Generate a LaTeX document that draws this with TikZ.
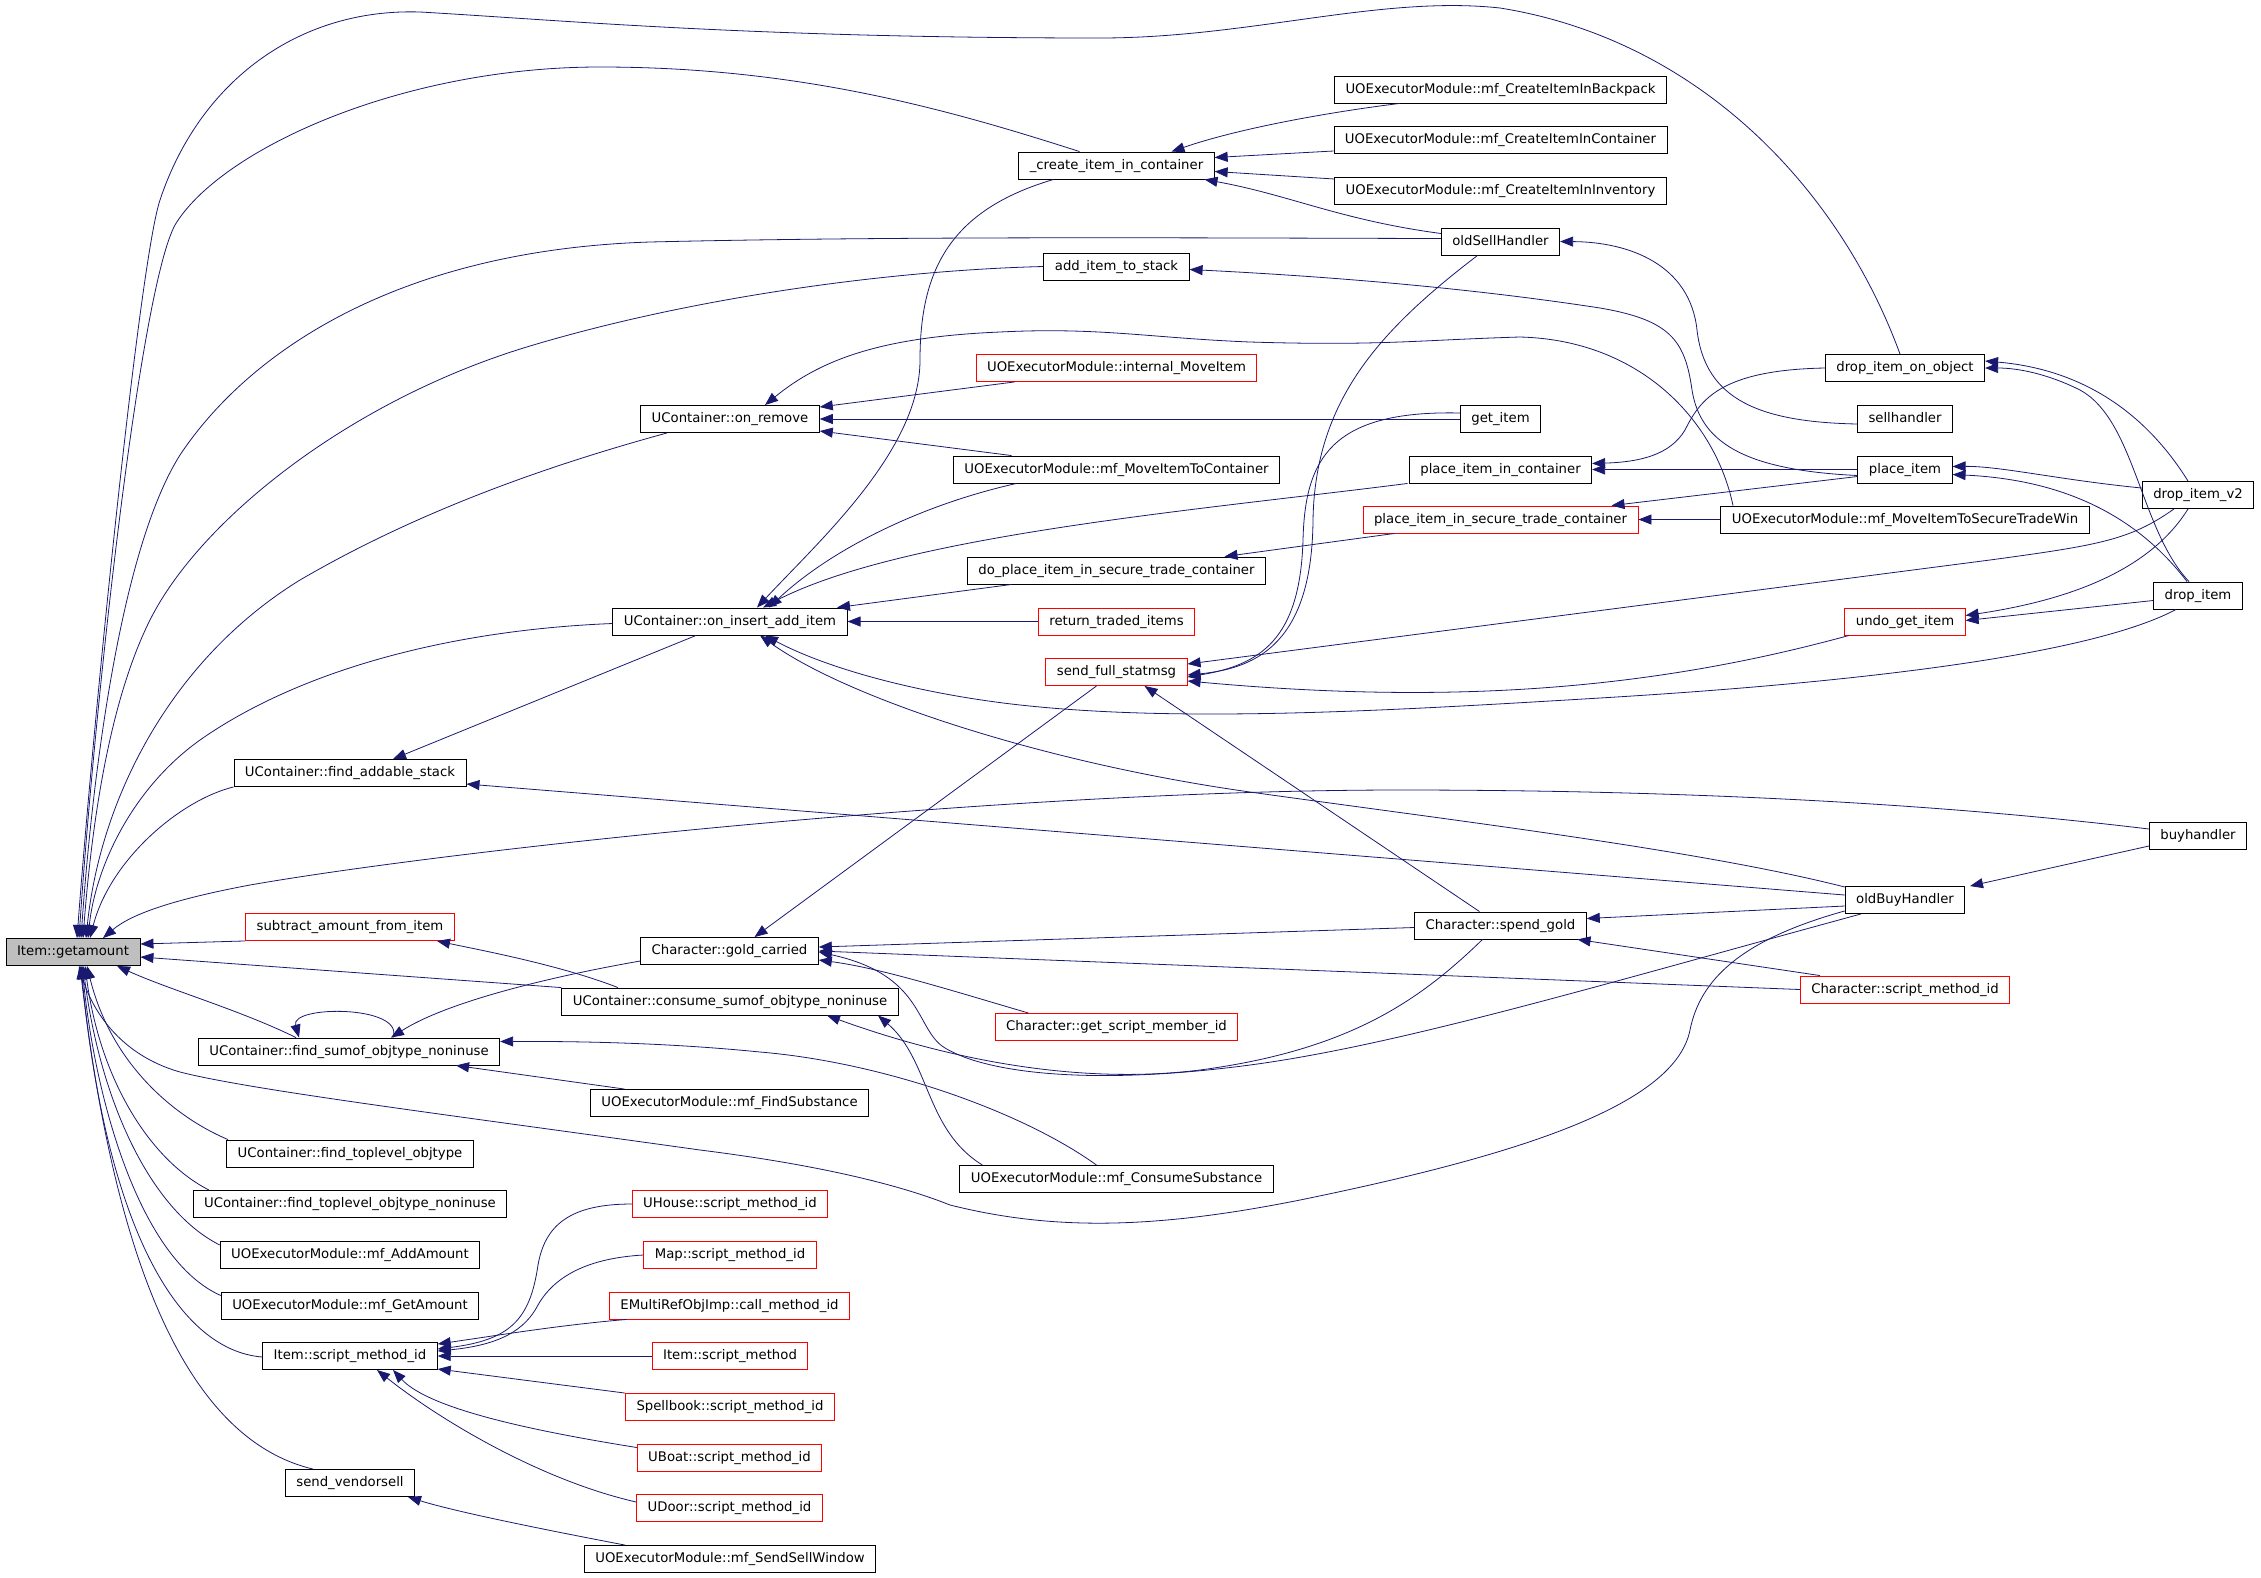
\documentclass[tikz,border=0pt]{standalone}
\usepackage{fontspec}
\setmainfont{DejaVu Sans}
\usepackage{xcolor}
\usepackage{tikz}
\usetikzlibrary{arrows.meta}
\definecolor{edgeblue}{HTML}{191970}
\definecolor{nodegray}{HTML}{BFBFBF}

\begin{document}
\begin{tikzpicture}[x=1pt, y=-1pt,
                    fn/.style = {draw,
                                 rectangle,
                                 line width = 0.9pt,
                                 inner xsep = 11pt,
                                 inner ysep = 0pt,
                                 minimum height = 27pt,
                                 text height = 9.7pt,
                                 text depth = 2.6pt,
                                 font = \fontsize{13.25}{15}\selectfont},
                    ext/.style = {fn, draw=red},
                    call/.style = {draw=edgeblue,
                                   line width = 0.8pt,
                                   -{Triangle[length=13pt, width=10pt]}}]

\useasboundingbox (0,0) rectangle (2261,1577);

\node (G) at (73,952) [fn, fill=nodegray] {Item::getamount};

\node (FAS) at (350,773) [fn] {UContainer::find\_addable\_stack};
\node (SA) at (350,927) [ext] {subtract\_amount\_from\_item};
\node (FSO) at (349,1051.5) [fn] {UContainer::find\_sumof\_objtype\_noninuse};
\node (FTO) at (350,1153.5) [fn] {UContainer::find\_toplevel\_objtype};
\node (FTN) at (350,1204) [fn] {UContainer::find\_toplevel\_objtype\_noninuse};
\node (AA) at (350,1255) [fn] {UOExecutorModule::mf\_AddAmount};
\node (GA) at (350,1305.5) [fn] {UOExecutorModule::mf\_GetAmount};
\node (ISM) at (350,1356) [fn] {Item::script\_method\_id};
\node (SV) at (350,1483) [fn] {send\_vendorsell};

\node (OR) at (730,419) [fn] {UContainer::on\_remove};
\node (OIA) at (730,621.5) [fn] {UContainer::on\_insert\_add\_item};
\node (GC) at (729.5,951) [fn] {Character::gold\_carried};
\node (CS) at (730,1001.5) [fn] {UContainer::consume\_sumof\_objtype\_noninuse};
\node (FS) at (729.5,1103) [fn] {UOExecutorModule::mf\_FindSubstance};
\node (UH) at (730,1204) [ext] {UHouse::script\_method\_id};
\node (MAP) at (730,1255) [ext] {Map::script\_method\_id};
\node (EM) at (729.5,1305.5) [ext] {EMultiRefObjImp::call\_method\_id};
\node (ISMM) at (730,1356) [ext] {Item::script\_method};
\node (SB) at (730,1407) [ext] {Spellbook::script\_method\_id};
\node (UB) at (729.5,1457.5) [ext] {UBoat::script\_method\_id};
\node (UD) at (729.5,1508) [ext] {UDoor::script\_method\_id};
\node (SSW) at (730,1559) [fn] {UOExecutorModule::mf\_SendSellWindow};

\node (CI) at (1116.5,165.5) [fn] {\_create\_item\_in\_container};
\node (AIS) at (1116.5,266.5) [fn] {add\_item\_to\_stack};
\node (IMI) at (1116.5,368) [ext] {UOExecutorModule::internal\_MoveItem};
\node (MTC) at (1116.5,469.5) [fn] {UOExecutorModule::mf\_MoveItemToContainer};
\node (DPS) at (1116.5,570.5) [fn] {do\_place\_item\_in\_secure\_trade\_container};
\node (RTI) at (1116.5,621.5) [ext] {return\_traded\_items};
\node (SFS) at (1116.5,672) [ext] {send\_full\_statmsg};
\node (GSM) at (1116.5,1027) [ext] {Character::get\_script\_member\_id};
\node (MCS) at (1116.5,1179) [fn] {UOExecutorModule::mf\_ConsumeSubstance};

\node (CB) at (1500.5,89.5) [fn] {UOExecutorModule::mf\_CreateItemInBackpack};
\node (CC) at (1500.5,140) [fn] {UOExecutorModule::mf\_CreateItemInContainer};
\node (CIV) at (1500.5,191) [fn] {UOExecutorModule::mf\_CreateItemInInventory};
\node (OSH) at (1500.5,241.5) [fn] {oldSellHandler};
\node (GI) at (1500.5,419) [fn] {get\_item};
\node (PIC) at (1500.5,469.5) [fn] {place\_item\_in\_container};
\node (PST) at (1500.5,519.5) [ext] {place\_item\_in\_secure\_trade\_container};
\node (SG) at (1500.5,925.5) [fn] {Character::spend\_gold};

\node (DIO) at (1905,368) [fn] {drop\_item\_on\_object};
\node (SH) at (1905,419) [fn] {sellhandler};
\node (PI) at (1905,469.5) [fn] {place\_item};
\node (MST) at (1905,519.5) [fn] {UOExecutorModule::mf\_MoveItemToSecureTradeWin};
\node (UGI) at (1905,621.5) [ext] {undo\_get\_item};
\node (OBH) at (1905,900) [fn] {oldBuyHandler};
\node (SMI) at (1905,989.5) [ext] {Character::script\_method\_id};

\node (DV2) at (2198,495) [fn] {drop\_item\_v2};
\node (DI) at (2198,595.5) [fn] {drop\_item};
\node (BH) at (2198,836) [fn] {buyhandler};

\draw[call] ([xshift=-5pt]DIO.north) .. controls (1840,190) and (1700,40) .. (1500,8)
  .. controls (1380,-5) and (1250,38) .. (1100,38)
  .. controls (750,38) and (560,20) .. (420,12)
  .. controls (300,8) and (200,80) .. (160,200)
  .. controls (140,260) and (95,700) .. ([xshift=4pt]G.north);
\draw[call] ([xshift=-37pt]CI.north) .. controls (950,110) and (800,67) .. (600,67)
  .. controls (400,67) and (220,150) .. (175,225)
  .. controls (140,290) and (95,700) .. ([xshift=6pt]G.north);
\draw[call] ([yshift=3pt]OSH.west) .. controls (1200,238) and (900,236) .. (650,242)
  .. controls (400,250) and (250,350) .. (180,455)
  .. controls (120,550) and (92,780) .. ([xshift=8pt]G.north);
\draw[call] (AIS.west) .. controls (900,270) and (700,295) .. (530,346)
  .. controls (350,400) and (200,520) .. (150,620)
  .. controls (110,700) and (92,820) .. ([xshift=10pt]G.north);
\draw[call] ([xshift=-63pt]OR.south) .. controls (550,465) and (420,510) .. (300,580)
  .. controls (170,660) and (100,800) .. ([xshift=13pt]G.north);
\draw[call] ([yshift=-2pt]OIA.west) .. controls (450,630) and (300,670) .. (200,740)
  .. controls (130,790) and (95,870) .. ([xshift=15pt]G.north);
\draw[call] (FAS.south west) .. controls (180,800) and (110,860) .. ([xshift=17pt]G.north);
\draw[call] ([yshift=7pt]BH.west) .. controls (1950,805) and (1700,790) .. (1400,790)
  .. controls (1000,790) and (450,850) .. (250,885)
  .. controls (170,900) and (130,915) .. ([xshift=30pt]G.north);
\draw[call] (SA.south west) -- ([yshift=8pt]G.east);
\draw[call] (CS.north west) -- ([yshift=-5pt]G.east);
\draw[call] ([xshift=-53pt]FSO.north) .. controls (240,1010) and (170,990) .. ([xshift=44pt]G.south);
\draw[call] ([yshift=3pt]OBH.south west) .. controls (1740,940) and (1700,980) .. (1690,1030)
  .. controls (1675,1105) and (1520,1155) .. (1300,1200)
  .. controls (1150,1230) and (1050,1230) .. (950,1205)
  .. controls (900,1185) and (820,1165) .. (700,1150)
  .. controls (450,1115) and (250,1090) .. (180,1072)
  .. controls (120,1055) and (92,1010) .. ([xshift=6pt]G.south);
\draw[call] ([xshift=-122pt]FTO.north) .. controls (170,1115) and (110,1060) .. ([xshift=14pt]G.south);
\draw[call] ([xshift=-141pt]FTN.north) .. controls (150,1160) and (100,1080) .. ([xshift=12pt]G.south);
\draw[call] ([yshift=10pt]AA.west) .. controls (150,1210) and (100,1100) .. ([xshift=10pt]G.south);
\draw[call] ([yshift=10pt]GA.west) .. controls (140,1260) and (95,1100) .. ([xshift=9pt]G.south);
\draw[call] ([yshift=-1pt]ISM.west) .. controls (175,1350) and (105,1220) .. ([xshift=8pt]G.south);
\draw[call] ([xshift=-37pt]SV.north) .. controls (190,1440) and (115,1270) .. ([xshift=7pt]G.south);

\draw[call] ([xshift=-101pt]CB.south) .. controls (1330,112) and (1240,128) .. ([xshift=55pt]CI.north);
\draw[call] ([yshift=-11pt]CC.west) -- ([yshift=8pt]CI.east);
\draw[call] ([yshift=12pt]CIV.west) -- ([yshift=-6pt]CI.east);
\draw[call] ([yshift=8pt]OSH.west) .. controls (1340,220) and (1290,195) .. ([xshift=88pt]CI.south);

\draw[call] ([xshift=-63pt]CI.south) .. controls (950,210) and (920,270) .. (920,360)
  .. controls (920,450) and (820,540) .. ([xshift=27pt]OIA.north);
\draw[call] ([xshift=-100pt]MTC.south) .. controls (920,505) and (830,550) .. ([xshift=39pt]OIA.north);
\draw[call] ([xshift=-93pt]PIC.south) .. controls (1200,510) and (900,535) .. ([xshift=33pt]OIA.north);
\draw[call] ([xshift=-105pt]DPS.south) -- ([xshift=107pt]OIA.north);
\draw[call] (RTI.west) -- (OIA.east);
\draw[call] ([xshift=-22pt]DI.south) .. controls (2100,650) and (1900,680) .. (1600,698)
  .. controls (1400,710) and (1200,722) .. (1040,707)
  .. controls (930,697) and (830,670) .. ([xshift=35pt]OIA.south);
\draw[call] ([yshift=13pt]OBH.west) .. controls (1700,850) and (1450,820) .. (1250,792)
  .. controls (1050,764) and (850,700) .. ([xshift=30pt]OIA.south);

\draw[call] ([xshift=-34pt]OIA.south) -- ([xshift=43pt]FAS.north);
\draw[call] ([yshift=5pt]OBH.west) -- ([yshift=-11pt]FAS.east);

\draw[call] ([xshift=-102pt]IMI.south) -- ([yshift=12pt]OR.east);
\draw[call] (GI.west) -- (OR.east);
\draw[call] ([xshift=-105pt]MTC.north) -- ([yshift=-12pt]OR.east);
\draw[call] ([xshift=-172pt]MST.north) .. controls (1715,420) and (1640,340) .. (1520,337)
  .. controls (1420,340) and (1380,346) .. (1250,342)
  .. controls (1150,338) and (1100,327) .. (1000,332)
  .. controls (880,337) and (820,360) .. ([xshift=35pt]OR.north);

\draw[call] ([yshift=6pt]GI.west) .. controls (1330,410) and (1305,460) .. (1303,540)
  .. controls (1300,640) and (1260,665) .. ([yshift=-5pt]SFS.east);
\draw[call] ([xshift=-23pt]OSH.south) .. controls (1380,330) and (1315,400) .. (1313,520)
  .. controls (1312,640) and (1260,668) .. ([yshift=-3pt]SFS.east);
\draw[call] ([xshift=-24pt]DV2.south) .. controls (2130,540) and (2100,545) .. (1990,560)
  -- ([yshift=8pt]SFS.east);
\draw[call] ([xshift=-56pt]UGI.south) .. controls (1650,690) and (1450,705) .. ([yshift=-9pt]SFS.east);
\draw[call] ([xshift=-21pt]SG.north) -- ([xshift=28pt]SFS.south);

\draw[call] ([xshift=-20pt]SFS.south) -- ([xshift=25pt]GC.north);
\draw[call] ([yshift=-2pt]SG.west) -- ([yshift=4pt]GC.east);
\draw[call] (SMI.west) -- (GC.east);
\draw[call] ([xshift=-88pt]GSM.north) .. controls (950,990) and (880,968) .. ([yshift=-9pt]GC.east);
\draw[call] ([xshift=-44pt]OBH.south) .. controls (1600,985) and (1400,1045) .. (1250,1065)
  .. controls (1100,1085) and (990,1075) .. (945,1048)
  .. controls (915,1030) and (925,975) .. ([yshift=-1pt]GC.east);

\draw[call] ([xshift=-18pt]SG.south) .. controls (1420,1000) and (1350,1050) .. (1200,1070)
  .. controls (1080,1085) and (950,1060) .. ([xshift=97pt]CS.south);
\draw[call] ([xshift=-134pt]MCS.north) .. controls (925,1130) and (930,1060) .. ([xshift=148pt]CS.south);
\draw[call] ([xshift=-112pt]CS.north) .. controls (560,965) and (480,950) .. ([xshift=87pt]SA.south);

\draw[call] ([yshift=-10pt]GC.west) .. controls (560,975) and (450,1000) .. ([xshift=42pt]FSO.north);
\draw[call] ([xshift=44pt]FSO.north) .. controls (405,1005) and (290,1005) .. ([xshift=-50pt]FSO.north);
\draw[call] ([xshift=-20pt]MCS.north) .. controls (1020,1110) and (880,1062) .. (760,1052)
  .. controls (700,1046) and (620,1041) .. ([yshift=10pt]FSO.east);
\draw[call] ([xshift=-105pt]FS.north) -- ([xshift=107pt]FSO.south);

\draw[call] (UH.west) .. controls (570,1204) and (545,1225) .. (538,1265)
  .. controls (530,1320) and (510,1340) .. ([yshift=7pt]ISM.east);
\draw[call] (MAP.west) .. controls (590,1258) and (555,1275) .. (538,1305)
  .. controls (525,1330) and (500,1345) .. ([yshift=5pt]ISM.east);
\draw[call] ([xshift=-103pt]EM.south) .. controls (560,1325) and (500,1335) .. ([yshift=12pt]ISM.east);
\draw[call] (ISMM.west) -- (ISM.east);
\draw[call] (SB.north west) -- ([yshift=-13pt]ISM.east);
\draw[call] ([yshift=10pt]UB.west) .. controls (540,1432) and (430,1410) .. ([xshift=43pt]ISM.south);
\draw[call] ([yshift=6pt]UD.west) .. controls (540,1480) and (440,1420) .. ([xshift=27pt]ISM.south);
\draw[call] ([xshift=-105pt]SSW.north) .. controls (520,1525) and (450,1510) .. ([xshift=58pt]SV.south);

\draw[call] ([xshift=-10pt]DV2.north) .. controls (2150,420) and (2090,370) .. ([yshift=7pt]DIO.east);
\draw[call] ([xshift=-9pt]DI.north) .. controls (2140,530) and (2135,420) .. (2080,390)
  .. controls (2050,375) and (2020,368) .. (DIO.east);
\draw[call] ([yshift=7pt]DV2.west) .. controls (2060,480) and (2000,466) .. ([yshift=3pt]PI.east);
\draw[call] ([xshift=-11pt]DI.north) .. controls (2140,520) and (2070,480) .. ([yshift=-5pt]PI.east);
\draw[call] ([xshift=-10pt]DV2.south) .. controls (2150,570) and (2070,600) .. ([yshift=6pt]UGI.east);
\draw[call] ([yshift=-5pt]DI.west) -- ([yshift=1pt]UGI.east);
\draw[call] (DIO.west) .. controls (1720,370) and (1700,400) .. (1685,430)
  .. controls (1670,455) and (1640,462) .. ([yshift=6pt]PIC.east);
\draw[call] (PI.west) -- (PIC.east);
\draw[call] ([yshift=-6pt]PI.west) .. controls (1740,470) and (1700,440) .. (1692,390)
  .. controls (1685,340) and (1670,320) .. (1600,308)
  .. controls (1450,285) and (1300,275) .. ([yshift=-3pt]AIS.east);
\draw[call] ([yshift=-7pt]PI.west) -- ([xshift=111pt]PST.north);
\draw[call] (MST.west) -- (PST.east);
\draw[call] ([xshift=-106pt]PST.south) -- ([xshift=108pt]DPS.north);
\draw[call] ([yshift=-5pt]SH.west) .. controls (1760,422) and (1705,400) .. (1697,330)
  .. controls (1690,265) and (1630,242) .. (OSH.east);
\draw[call] ([yshift=-10pt]BH.west) -- ([xshift=65pt]OBH.north);
\draw[call] ([yshift=-6pt]OBH.west) -- ([yshift=7pt]SG.east);
\draw[call] ([xshift=-85pt]SMI.north) -- ([xshift=77pt]SG.south);
\end{tikzpicture}
\end{document}
